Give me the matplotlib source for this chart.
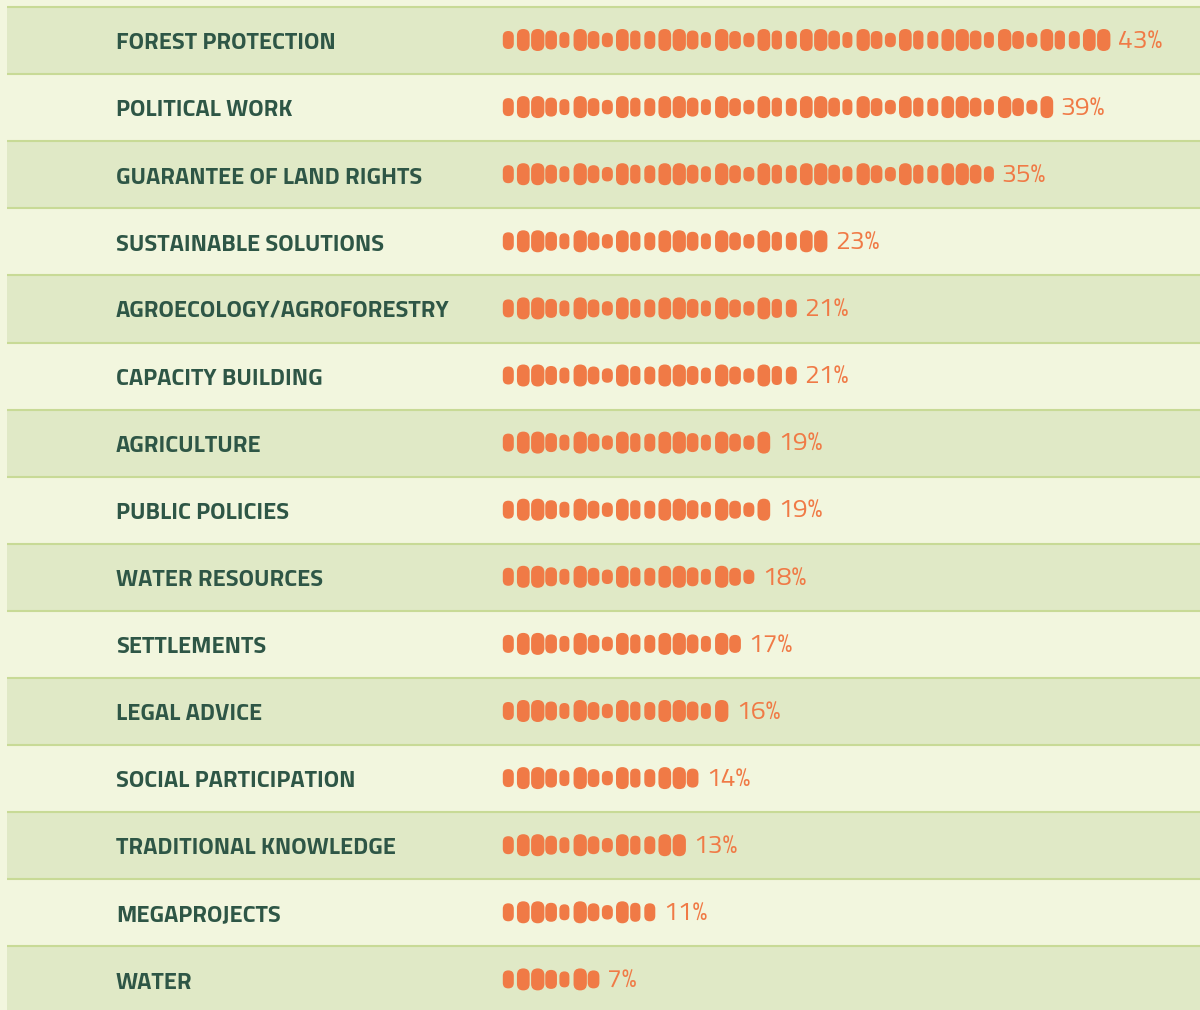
import matplotlib
matplotlib.use('Agg')
import matplotlib.pyplot as plt
from matplotlib.patches import FancyBboxPatch, Rectangle

# data
topics = ['FOREST PROTECTION', 'POLITICAL WORK', 'GUARANTEE OF LAND RIGHTS',
          'SUSTAINABLE SOLUTIONS', 'AGROECOLOGY/AGROFORESTRY', 'CAPACITY BUILDING',
          'AGRICULTURE', 'PUBLIC POLICIES', 'WATER RESOURCES', 'SETTLEMENTS',
          'LEGAL ADVICE', 'SOCIAL PARTICIPATION', 'TRADITIONAL KNOWLEDGE',
          'MEGAPROJECTS', 'WATER']
shares = [43, 39, 35, 23, 21, 21, 19, 19, 18, 17, 16, 14, 13, 11, 7]

# styling
bg_light = '#f2f6de'
bg_dark = '#e0e9c6'
line_col = '#c8da96'
text_col = '#2e5646'
orange = '#f07a46'
label_font = ['Titillium Web', 'DejaVu Sans']

# one seed per percent, sizes cycle through a fixed pattern (w, h)
seed_shape = [(10, 17), (11.7, 21), (12.3, 21), (10.7, 18), (9, 15),
              (12.3, 21), (10.7, 17), (10, 13.5), (11.7, 21), (9.3, 18)]
pitch = 14.15
x0 = 503.3
row_top0 = 7
row_h = 67.1

fig = plt.figure(figsize=(12, 10.1), dpi=100)
fig.patch.set_facecolor(bg_light)
ax = fig.add_axes([0, 0, 1, 1])
ax.set_xlim(0, 1200)
ax.set_ylim(1010, 0)
ax.axis('off')

for i, (name, val) in enumerate(zip(topics, shares)):
    top = row_top0 + i * row_h
    col = bg_dark if i % 2 == 0 else bg_light
    ax.add_patch(Rectangle((7, top), 1200, row_h, facecolor=col, edgecolor='none', zorder=1))
    ax.plot([7, 1200], [top, top], color=line_col, lw=1.5, zorder=2, solid_capstyle='butt')
    cy = top + 33
    ax.text(116, top + 42.3, name, fontsize=17.1, fontweight='bold', color=text_col,
            family=label_font, va='baseline', ha='left', zorder=3)
    for k in range(val):
        w, h = seed_shape[k % 10]
        w += 1.0
        h += 1.0
        left = x0 - 0.5 + k * pitch
        ax.add_patch(FancyBboxPatch((left, cy - h / 2), w, h,
                                    boxstyle='round,pad=0,rounding_size=%.2f' % (w / 2 - 0.01),
                                    facecolor=orange, edgecolor='none', zorder=3))
    end = x0 + (val - 1) * pitch + seed_shape[(val - 1) % 10][0]
    ax.text(end + 8, top + 41.5, '%d%%' % val, fontsize=19, color=orange,
            family=label_font, va='baseline', ha='left', zorder=3)

fig.savefig('out.png', dpi=100, facecolor=fig.get_facecolor())
